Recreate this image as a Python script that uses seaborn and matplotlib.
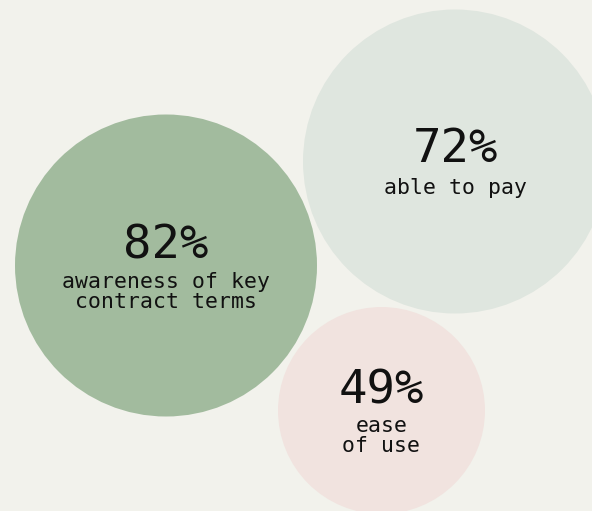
import matplotlib
matplotlib.use("Agg")
import matplotlib.pyplot as plt
import pandas as pd
import seaborn as sns

# Survey results shown as bubbles
metrics = ["awareness of key\ncontract terms", "able to pay", "ease\nof use"]
values = [82, 72, 49]

# Bubble layout in pixel space (centre x, centre y, radius)
centre_x = [166, 455, 381.5]
centre_y = [265.5, 161.5, 410.5]
radius = [151, 152, 103.5]
colors = ["#a2bb9e", "#dfe6df", "#f1e3df"]
background = "#f2f2ec"
ink = "#111111"

W, H, DPI = 592, 511, 100

sns.set_theme(style="white")
plt.rcParams["font.family"] = ["DejaVu Sans Mono", "DejaVu Sans"]

df = pd.DataFrame({"metric": metrics, "value": values,
                   "x": centre_x, "y": centre_y, "r": radius})

fig = plt.figure(figsize=(W / DPI, H / DPI), dpi=DPI, facecolor=background)
ax = fig.add_axes([0, 0, 1, 1])
ax.set_facecolor(background)
ax.set_xlim(0, W)
ax.set_ylim(H, 0)

# marker size is area in points^2 of the marker's diameter
pt_per_px = 72 / DPI
size_map = {m: (2 * r * pt_per_px) ** 2 for m, r in zip(metrics, radius)}
sns.scatterplot(data=df, x="x", y="y", hue="metric", palette=dict(zip(metrics, colors)),
                size="metric", sizes=size_map, linewidth=0, alpha=1,
                legend=False, ax=ax, zorder=1)

# value and caption offsets from each bubble's centre (pixels)
value_dy = [-7, 0.5, -7.5]
caption_dy = [29.5, 31.5, 29]
line_gap = 20.5

for m, v, x, y, vdy, cdy in zip(metrics, values, centre_x, centre_y, value_dy, caption_dy):
    ax.text(x, y + vdy, f"{v}%", ha="center", va="baseline",
            fontsize=34, color=ink, zorder=3)
    for i, line in enumerate(m.split("\n")):
        ax.text(x, y + vdy + cdy + i * line_gap, line, ha="center", va="baseline",
                fontsize=15.5, color=ink, zorder=3)

ax.axis("off")
fig.savefig("out.png", dpi=DPI, facecolor=background)
